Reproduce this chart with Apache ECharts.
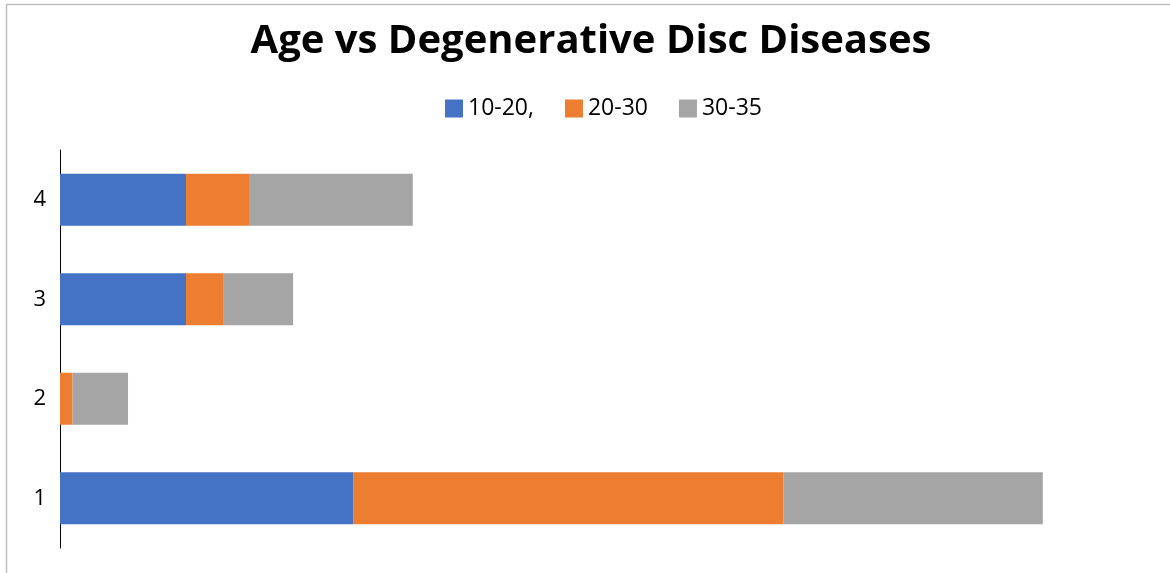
<!DOCTYPE html>
<html>
<head>
<meta charset="utf-8">
<script src="https://cdn.jsdelivr.net/npm/echarts@6/dist/echarts.min.js"></script>
<style>
  html, body { margin: 0; padding: 0; background: #fff; }
  #chart { width: 1170px; height: 573px; }
</style>
</head>
<body>
<div id="chart"></div>
<script>
// Categories (bottom to top) and stacked values for each age group
const categories = ['1', '2', '3', '4'];
const age10to20 = [23.3, 0, 10, 10];
const age20to30 = [34.1, 1, 3, 5];
const age30to35 = [20.6, 4.4, 5.5, 13];
const seriesNames = ['10-20,', '20-30', '30-35'];
const colors = ['#4472C4', '#ED7D31', '#A5A5A5'];

const FONT = 'Open Sans';
const chart = echarts.init(document.getElementById('chart'));

const barSeries = [age10to20, age20to30, age30to35].map((vals, i) => ({
  name: seriesNames[i],
  type: 'bar',
  stack: 'total',
  data: vals,
  barWidth: 52,
  itemStyle: { color: colors[i] },
  emphasis: { disabled: true }
}));

chart.setOption({
  animation: false,
  color: colors,
  title: {
    text: 'Age vs Degenerative Disc Diseases',
    left: 586,
    textAlign: 'center',
    top: 17,
    textStyle: { fontFamily: FONT, fontWeight: 'bold', fontSize: 40, color: '#000' }
  },
  legend: {
    top: 92,
    left: 440,
    itemWidth: 18,
    itemHeight: 18,
    itemGap: 31,
    icon: 'rect',
    textStyle: { fontFamily: FONT, fontSize: 23, color: '#000' },
    data: seriesNames
  },
  grid: { left: 60, top: 150, width: 1008, height: 398, containLabel: false },
  xAxis: {
    type: 'value',
    min: 0,
    max: 80,
    show: false
  },
  yAxis: {
    type: 'category',
    data: categories,
    axisLine: { show: true, lineStyle: { color: '#000', width: 1 } },
    axisTick: { show: false },
    axisLabel: { fontFamily: FONT, fontSize: 22, color: '#000', margin: 14 }
  },
  graphic: [{
    type: 'rect',
    shape: { x: 6.5, y: 4.5, width: 1200, height: 600 },
    style: { fill: 'none', stroke: '#BFBFBF', lineWidth: 1.5 },
    silent: true
  }],
  series: barSeries
});
</script>
</body>
</html>
